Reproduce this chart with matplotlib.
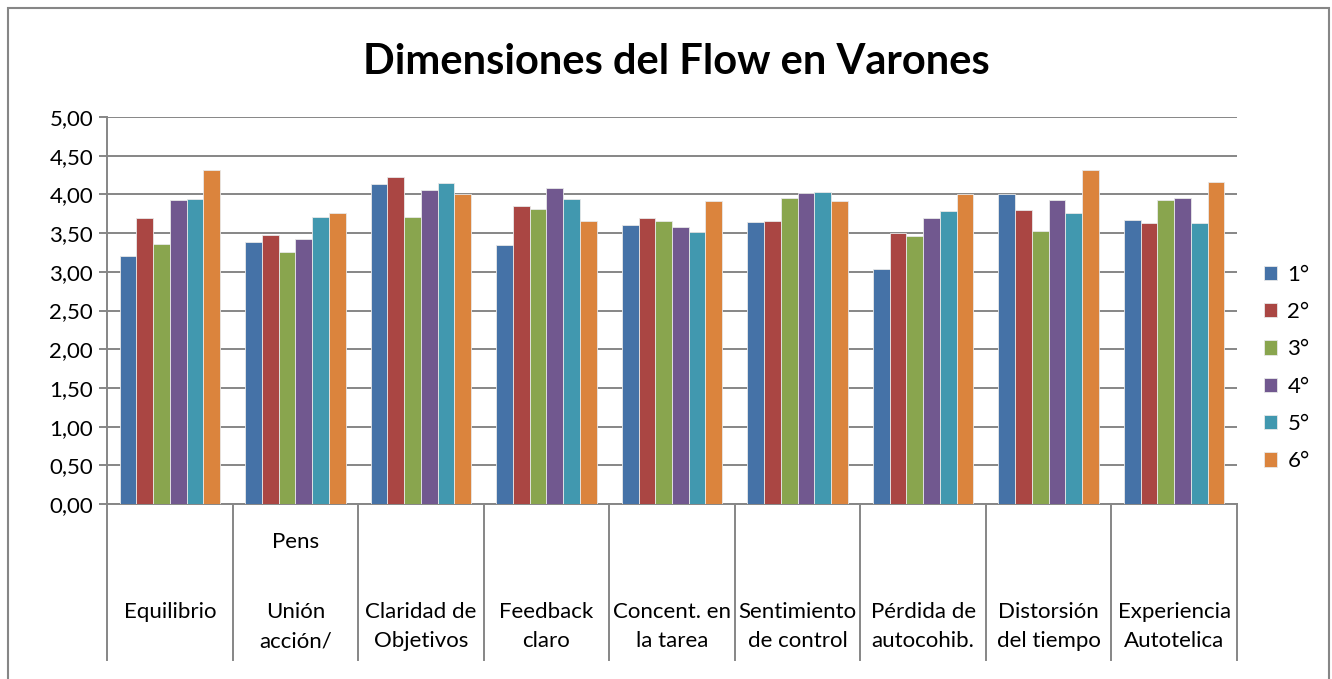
import matplotlib
matplotlib.use("Agg")
import matplotlib.pyplot as plt
import matplotlib.transforms as mtransforms
from matplotlib.patches import Rectangle
import numpy as np

plt.rcParams['font.family'] = ['Lato', 'DejaVu Sans']

title = "Dimensiones del Flow en Varones"
categories = ["Equilibrio", "Unión\nacción/\nPens", "Claridad de\nObjetivos", "Feedback\nclaro",
              "Concent. en\nla tarea", "Sentimiento\nde control", "Pérdida de\nautocohib.",
              "Distorsión\ndel tiempo", "Experiencia\nAutotelica"]
series_names = ["1°", "2°", "3°", "4°", "5°", "6°"]
s1 = [3.21, 3.39, 4.14, 3.35, 3.60, 3.64, 3.04, 4.00, 3.67]
s2 = [3.69, 3.47, 4.22, 3.85, 3.69, 3.66, 3.50, 3.80, 3.63]
s3 = [3.36, 3.25, 3.71, 3.81, 3.65, 3.95, 3.46, 3.53, 3.93]
s4 = [3.93, 3.43, 4.06, 4.08, 3.58, 4.02, 3.70, 3.93, 3.95]
s5 = [3.94, 3.71, 4.15, 3.94, 3.51, 4.03, 3.78, 3.76, 3.63]
s6 = [4.32, 3.76, 4.01, 3.66, 3.91, 3.91, 4.01, 4.32, 4.16]
series = [s1, s2, s3, s4, s5, s6]
colors = ['#4572A7', '#AA4643', '#89A54E', '#71588F', '#4198AF', '#DB843D']
yticks = [0, 0.5, 1, 1.5, 2, 2.5, 3, 3.5, 4, 4.5, 5]

W, H = 1332, 679
FS = 16
fig = plt.figure(figsize=(W/100, H/100), dpi=100)
fig.patch.set_facecolor('white')
# outer border
fig.add_artist(Rectangle((8/W, -0.1), (1329-8)/W, 1.1 - 8/H, transform=fig.transFigure,
                         fill=False, edgecolor='#868686', linewidth=1.5))

ax = fig.add_axes([107/W, (H-504)/H, (1237-107)/W, (504-117)/H])
n = len(categories)
x = np.arange(n)
bw = 0.8/len(series)
for i, (vals, c, name) in enumerate(zip(series, colors, series_names)):
    ax.bar(x - 0.4 + bw*(i+0.5), vals, width=bw, color=c, edgecolor='#e8e8e8',
           linewidth=0.6, label=name, zorder=3)

ax.set_xlim(-0.5, n-0.5)
ax.set_ylim(0, 5)
ax.set_yticks(yticks)
ax.set_yticklabels([f"{v:.2f}".replace('.', ',') for v in yticks], fontsize=FS)
ax.yaxis.grid(True, color='#868686', linewidth=1.4, zorder=0)
ax.set_axisbelow(True)
ax.tick_params(axis='y', length=6, width=1.4, color='#868686', pad=4)
ax.set_xticks([])
for sp in ['top', 'right']:
    ax.spines[sp].set_visible(False)
for sp in ['left', 'bottom']:
    ax.spines[sp].set_color('#868686')
    ax.spines[sp].set_linewidth(1.4)

trans = mtransforms.blended_transform_factory(ax.transData, ax.transAxes)
ybot = -(660-504)/(504-117)
for b in np.arange(n+1) - 0.5:
    ax.plot([b, b], [0, ybot], transform=trans, color='#868686', lw=1.4, clip_on=False)

row1 = -(612-504)/(504-117)
row2 = -(641-504)/(504-117)
row0 = -(542-504)/(504-117)
for xi, lab in zip(x, categories):
    lines = lab.split('\n')
    ys = [row1, row2, row0]
    for ln, yy in zip(lines, ys):
        ax.text(xi, yy, ln, transform=trans, ha='center', va='center', fontsize=FS)

fig.text(676/W, 1-62/H, title, ha='center', va='center', fontsize=30, fontweight='bold')

fig.legend(loc='center left', bbox_to_anchor=(1244/W, 1-368/H), frameon=False,
           fontsize=FS, handlelength=0.6, handleheight=0.6, handletextpad=0.45,
           labelspacing=0.78)

fig.savefig('out.png', dpi=100)
